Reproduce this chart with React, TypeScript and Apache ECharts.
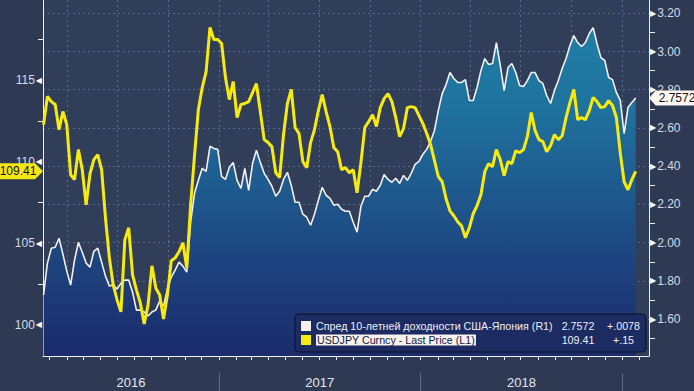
import React, { useEffect, useRef } from 'react';
import * as echarts from 'echarts';

const SPREAD_NAME = 'Спред 10-летней доходности США-Япония (R1)';
const USDJPY_NAME = 'USDJPY Curncy - Last Price (L1)';
const SPREAD_CHANGE = '+.0078';
const USDJPY_CHANGE = '+.15';

// weekly observations starting 2016-02-19
const FIRST_WEEK = [2016, 1, 19];

const spread = [
  1.726, 1.893, 1.971, 1.976, 2.023, 1.940, 1.851, 1.778, 1.908, 2.002,
  1.950, 1.893, 1.872, 1.955, 1.971, 1.898, 1.825, 1.773, 1.778, 1.757,
  1.788, 1.804, 1.804, 1.741, 1.647, 1.647, 1.637, 1.616, 1.637, 1.647,
  1.694, 1.668, 1.757, 1.820, 1.856, 1.898, 1.877, 1.846, 2.107, 2.258,
  2.326, 2.389, 2.373, 2.504, 2.493, 2.488, 2.347, 2.331, 2.394, 2.420,
  2.326, 2.284, 2.389, 2.274, 2.415, 2.483, 2.420, 2.363, 2.331, 2.295,
  2.243, 2.269, 2.331, 2.368, 2.300, 2.211, 2.211, 2.149, 2.133, 2.091,
  2.149, 2.222, 2.290, 2.248, 2.232, 2.196, 2.201, 2.175, 2.164, 2.164,
  2.107, 2.055, 2.190, 2.243, 2.243, 2.279, 2.269, 2.300, 2.357, 2.331,
  2.316, 2.337, 2.310, 2.352, 2.326, 2.363, 2.410, 2.425, 2.462, 2.488,
  2.530, 2.587, 2.692, 2.780, 2.827, 2.890, 2.859, 2.838, 2.838, 2.853,
  2.744, 2.744, 2.812, 2.900, 2.963, 2.932, 2.937, 3.047, 2.927, 2.796,
  2.916, 2.937, 2.890, 2.822, 2.817, 2.848, 2.890, 2.890, 2.848, 2.833,
  2.770, 2.728, 2.796, 2.848, 2.911, 2.963, 3.031, 3.083, 3.047, 3.026,
  3.047, 3.094, 3.125, 3.041, 2.968, 2.953, 2.864, 2.853, 2.786, 2.744,
  2.571, 2.707, 2.733, 2.7572,
];

const usdjpy = [
  112.27, 113.99, 113.68, 113.50, 111.96, 113.07, 112.27, 109.20, 108.90, 110.74,
  109.51, 107.36, 109.26, 110.12, 110.43, 109.51, 106.56, 104.11, 102.45, 101.53,
  100.80, 105.21, 105.95, 103.07, 102.15, 101.35, 100.06, 101.23, 103.62, 102.27,
  101.84, 100.37, 101.84, 103.93, 104.11, 104.48, 105.03, 103.50, 107.36, 110.37,
  113.19, 114.54, 115.52, 118.22, 117.48, 117.48, 117.24, 115.15, 113.80, 114.91,
  112.70, 113.50, 113.56, 113.68, 114.23, 114.78, 113.07, 111.35, 111.17, 110.92,
  109.32, 109.02, 111.66, 113.56, 114.42, 112.09, 111.72, 110.00, 109.63, 111.17,
  111.96, 113.13, 114.11, 113.07, 112.15, 110.86, 110.61, 109.51, 109.63, 109.32,
  109.51, 108.10, 109.94, 112.09, 112.45, 112.88, 112.15, 113.31, 113.86, 114.17,
  113.68, 112.70, 111.53, 112.02, 113.31, 113.37, 113.31, 112.82, 112.33, 111.72,
  111.04, 110.06, 109.08, 108.77, 107.73, 106.99, 106.69, 106.32, 106.07, 105.34,
  105.95, 106.81, 107.30, 107.98, 109.39, 109.88, 109.69, 110.74, 110.12, 109.14,
  110.00, 109.88, 110.67, 110.55, 110.74, 111.53, 113.01, 111.90, 111.35, 111.23,
  110.61, 110.98, 111.66, 111.35, 111.59, 112.70, 113.62, 114.42, 112.58, 112.70,
  112.58, 113.13, 113.93, 113.68, 113.31, 113.37, 113.74, 113.44, 112.70, 110.55,
  108.77, 108.28, 108.90, 109.41,
];

const LEFT_LABELS = [100, 105, 110, 115];
const LEFT_MINOR_TICKS = [102.5, 107.5, 112.5, 117.5];
const RIGHT_LABELS = [1.6, 1.8, 2.0, 2.2, 2.4, 2.6, 2.8, 3.0, 3.2];
const RIGHT_MINOR_TICKS = [1.5, 1.7, 1.9, 2.1, 2.3, 2.5, 2.7, 2.9, 3.1];
const YEARS = [2016, 2017, 2018];

const X_MIN = new Date(2016, 1, 18).getTime();
const X_MAX = new Date(2019, 1, 18).getTime();
const L_MIN = 98.1;
const L_MAX = 119.9;
const R_MIN = 1.407;
const R_MAX = 3.2695;

const FONT = 'Liberation Sans';
const GRID_LINE = 'rgba(135,160,200,0.45)';
const YELLOW = '#f7ea10';
const WHITE = '#f6f0ec';

function weekDate(i: number) {
  return new Date(FIRST_WEEK[0], FIRST_WEEK[1], FIRST_WEEK[2] + 7 * i).getTime();
}

function monthStarts(from: [number, number], to: [number, number], step: number) {
  const out: number[] = [];
  let y = from[0];
  let m = from[1];
  while (y < to[0] || (y === to[0] && m <= to[1])) {
    out.push(new Date(y, m, 1).getTime());
    m += step;
    while (m >= 12) { m -= 12; y += 1; }
  }
  return out;
}

function measure(text: string, font: string) {
  const c = document.createElement('canvas').getContext('2d');
  if (!c) return text.length * 5.6;
  c.font = font;
  return c.measureText(text).width;
}

export default function App() {
  const ref = useRef<HTMLDivElement>(null);

  useEffect(() => {
    if (!ref.current) return;
    const chart = echarts.init(ref.current, undefined, { renderer: 'svg' });

    const spreadData = spread.map((v, i) => [weekDate(i), v]);
    const usdData = usdjpy.map((v, i) => [weekDate(i), v]);
    const lastSpread = spread[spread.length - 1];
    const lastUsd = usdjpy[usdjpy.length - 1];

    const monthTicks = monthStarts([2016, 2], [2019, 1], 1);
    const quarterTicks = monthStarts([2016, 3], [2019, 0], 3);
    const yearStarts = YEARS.slice(1).map((y) => new Date(y, 0, 1).getTime()).concat([new Date(2019, 0, 1).getTime()]);
    const yearMids = YEARS.map((y) => {
      const a = Math.max(new Date(y, 0, 1).getTime(), X_MIN);
      const b = Math.min(new Date(y + 1, 0, 1).getTime(), X_MAX);
      return (a + b) / 2;
    });

    const NAME_W = 242;
    const rawW = measure(SPREAD_NAME, `11px "${FONT}"`);
    const LF = Math.min(11, Math.round((11 * 236 / rawW) * 10) / 10);
    const hW = measure(USDJPY_NAME, `${LF}px "${FONT}"`) + 2;

    const legendRich = {
      n: { width: NAME_W, color: '#eef0f4', fontSize: LF, lineHeight: 14, fontFamily: FONT },
      h: { backgroundColor: '#f7f2ee', color: '#141a3c', fontSize: LF, lineHeight: 13, padding: [0, 1, 0, 1], fontFamily: FONT },
      s: { width: Math.max(1, NAME_W - hW), fontSize: LF, lineHeight: 14 },
      v: { width: 40, align: 'right', color: '#eef0f4', fontSize: LF, lineHeight: 14, fontFamily: FONT },
      g: { width: 9, fontSize: LF, lineHeight: 14 },
      c: { width: 33, align: 'left', color: '#eef0f4', fontSize: LF, lineHeight: 14, fontFamily: FONT },
    };

    const baseX = { type: 'value', min: X_MIN, max: X_MAX, position: 'bottom' };

    const option: any = {
      animation: false,
      backgroundColor: '#2e3a53',
      textStyle: { fontFamily: FONT },
      grid: {
        left: 43, right: 45, top: 0, bottom: 35,
        show: true, backgroundColor: '#313e5a', borderWidth: 0,
      },
      legend: {
        left: 295, top: 314, orient: 'vertical',
        itemWidth: 10, itemHeight: 10, itemGap: 0, icon: 'rect',
        selectedMode: false,
        backgroundColor: '#1c2b62', borderColor: '#0b1024', borderWidth: 1, borderRadius: 4,
        padding: [5, 6, 5, 6],
        data: [
          { name: SPREAD_NAME, itemStyle: { color: WHITE } },
          { name: USDJPY_NAME, itemStyle: { color: YELLOW } },
        ],
        formatter: (name: string) =>
          name === SPREAD_NAME
            ? `{n|${name}}{v|${lastSpread}}{g| }{c|${SPREAD_CHANGE}}`
            : `{h|${name}}{s| }{v|${lastUsd}}{g| }{c|${USDJPY_CHANGE}}`,
        textStyle: { color: '#eef0f4', fontSize: LF, lineHeight: 14, fontFamily: FONT, rich: legendRich },
      },
      xAxis: [
        {
          ...baseX,
          axisLine: { show: true, lineStyle: { color: '#f2f2f2', width: 1 } },
          axisTick: { show: true, customValues: monthTicks, length: 4, lineStyle: { color: '#e6e8ee' } },
          axisLabel: { show: false },
          splitLine: { show: false },
        },
        {
          ...baseX,
          axisLine: { show: false },
          axisTick: { show: false, customValues: quarterTicks },
          axisLabel: { show: false },
          splitLine: { show: true, lineStyle: { color: GRID_LINE, type: [2, 3], width: 1 } },
        },
        {
          ...baseX, offset: 17,
          axisLine: { show: false },
          axisTick: { show: true, customValues: yearStarts, length: 20, lineStyle: { color: '#616b84', width: 1 } },
          axisLabel: {
            show: true, customValues: yearMids,
            formatter: (v: number) => String(new Date(v).getFullYear()),
            color: '#e4e7ee', fontSize: 13, margin: 3, fontFamily: FONT,
          },
          splitLine: { show: false },
        },
      ],
      yAxis: [
        {
          type: 'value', position: 'left', min: L_MIN, max: L_MAX,
          axisLine: { show: true, lineStyle: { color: '#f2f2f2', width: 1 } },
          axisTick: { show: true, customValues: LEFT_MINOR_TICKS, length: 5, lineStyle: { color: '#eceef2' } },
          axisLabel: {
            customValues: LEFT_LABELS, margin: 1,
            formatter: (v: number) => `{t|${v}}{a|◀}`,
            rich: {
              t: { color: '#d7dbe3', fontSize: 12, fontFamily: FONT, padding: [0, 1, 0, 0] },
              a: { color: '#ffffff', fontSize: 8, fontFamily: 'DejaVu Sans' },
            },
          },
          splitLine: { show: false },
        },
        {
          type: 'value', position: 'right', min: R_MIN, max: R_MAX,
          axisLine: { show: true, lineStyle: { color: '#f2f2f2', width: 1 } },
          axisTick: { show: true, customValues: RIGHT_MINOR_TICKS, length: 6, lineStyle: { color: '#eceef2' } },
          axisLabel: {
            customValues: RIGHT_LABELS, margin: 1,
            formatter: (v: number) => `{a|▶}{t|${v.toFixed(2)}}`,
            rich: {
              t: { color: '#d7dbe3', fontSize: 12, fontFamily: FONT, padding: [0, 0, 0, 1] },
              a: { color: '#ffffff', fontSize: 8, fontFamily: 'DejaVu Sans' },
            },
          },
          splitLine: { show: false },
        },
        {
          type: 'value', position: 'right', min: R_MIN, max: R_MAX,
          axisLine: { show: false },
          axisTick: { show: false, customValues: RIGHT_LABELS },
          axisLabel: { show: false },
          splitLine: { show: true, lineStyle: { color: GRID_LINE, type: [2, 3], width: 1 } },
        },
      ],
      series: [
        {
          name: SPREAD_NAME, type: 'line', xAxisIndex: 0, yAxisIndex: 1,
          data: spreadData, showSymbol: false, symbol: 'none',
          lineStyle: { color: WHITE, width: 1.6 },
          itemStyle: { color: WHITE },
          areaStyle: {
            origin: 'start', opacity: 1,
            color: new echarts.graphic.LinearGradient(0, 0, 0, 356, [
              { offset: 0, color: '#1f84a8' },
              { offset: 0.3, color: '#1e729e' },
              { offset: 0.55, color: '#1e588d' },
              { offset: 0.8, color: '#1d3d7b' },
              { offset: 1, color: '#1b2a6b' },
            ], true),
          },
          markPoint: {
            silent: true,
            symbol: 'path://M7,0L52,0L52,15L7,15L0,7.5Z',
            symbolSize: [50, 15],
            symbolOffset: [25, 0],
            itemStyle: { color: '#fdf6ef' },
            label: {
              show: true, position: 'inside', formatter: String(lastSpread),
              color: '#111111', fontSize: 12, fontFamily: FONT, offset: [3, 0],
            },
            data: [{ coord: [X_MAX, lastSpread] }],
          },
          z: 2,
        },
        {
          name: USDJPY_NAME, type: 'line', xAxisIndex: 0, yAxisIndex: 0,
          data: usdData, showSymbol: false, symbol: 'none',
          lineStyle: { color: YELLOW, width: 3 },
          itemStyle: { color: YELLOW },
          markPoint: {
            silent: true,
            symbol: 'path://M0,0L36,0L44,8.5L36,17L0,17Z',
            symbolSize: [44, 16],
            symbolOffset: [-22, 0],
            itemStyle: { color: '#f5e61a' },
            label: {
              show: true, position: 'inside', formatter: String(lastUsd),
              color: '#111111', fontSize: 12, fontFamily: FONT, offset: [-3, 0],
            },
            data: [{ coord: [X_MIN, lastUsd] }],
          },
          z: 3,
        },
      ],
    };

    chart.setOption(option);
    return () => chart.dispose();
  }, []);

  return (
    <div
      ref={ref}
      style={{ position: 'fixed', left: 0, top: 0, width: 694, height: 391, background: '#2e3a53' }}
    />
  );
}
